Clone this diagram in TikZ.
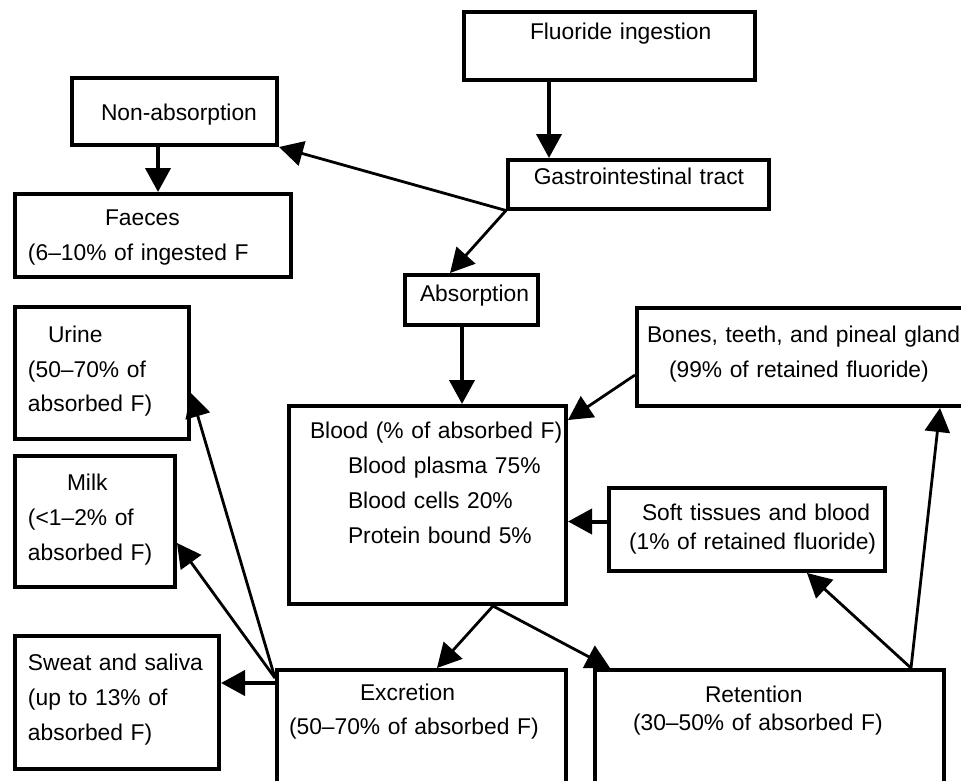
\documentclass[tikz,border=0pt]{standalone}
\usepackage{fontspec}
\setmainfont{Liberation Sans}
\usetikzlibrary{arrows.meta}

\newcommand{\flowfont}{\fontsize{22.8pt}{35pt}\selectfont}

\tikzset{
  box/.style={draw, line width=4pt, inner sep=0pt, anchor=north west, align=left},
  arr/.style={-{Triangle[length=24pt,width=25pt]}, line width=2.8pt},
  varr/.style={arr, line width=4pt},
}

\begin{document}
\begin{tikzpicture}[x=1pt,y=-1pt,font=\flowfont]
    \clip (0,0) rectangle (961,780);

    %% intake
    \node[box, text width=291pt, text height=27pt, text depth=41pt] (ingest) at (462,10)
      {\hspace*{66pt}Fluoride ingestion};
    \node[box, line width=3.5pt, text width=261pt, text height=25pt, text depth=24pt] (gastro) at (506,158)
      {\hspace*{26pt}Gastrointestinal tract};
    \node[box, text width=205pt, text height=42.5pt, text depth=24.5pt] (nonabs) at (70,76)
      {\hspace*{29pt}Non-absorption};
    \node[box, text width=276pt, text height=31.5pt, text depth=51.5pt] (faeces) at (13,192)
      {\hspace*{90pt}Faeces\\ \hspace*{13pt}(6--10\% of ingested F};
    \node[box, text width=133pt, text height=26.5pt, text depth=23.5pt] (absorb) at (403,273)
      {\hspace*{15pt}Absorption};

    %% blood
    \node[box, text width=277pt, text height=32pt, text depth=166pt] (blood) at (287,404)
      {\hspace*{21pt}\mbox{Blood (\% of absorbed F)}\\
       \hspace*{59pt}Blood plasma 75\%\\
       \hspace*{59pt}Blood cells 20\%\\
       \hspace*{59pt}Protein bound 5\%};

    %% excretion side
    \node[box, text width=174pt, text height=35pt, text depth=97pt] (urine) at (13,305)
      {\hspace*{33pt}Urine\\ \hspace*{13pt}(50--70\% of\\[-1pt] \hspace*{13pt}absorbed F)};
    \node[box, text width=160pt, text height=34.5pt, text depth=96.5pt] (milk) at (13,454)
      {\hspace*{52pt}Milk\\ \hspace*{13pt}(<1--2\% of\\ \hspace*{13pt}absorbed F)};
    \node[box, text width=204pt, text height=34.5pt, text depth=98.5pt] (sweat) at (13,634)
      {\hspace*{13pt}Sweat and saliva\\ \hspace*{13pt}(up to 13\% of\\ \hspace*{13pt}absorbed F)};
    \node[box, text width=289pt, text height=30pt, text depth=102pt] (excr) at (275,668)
      {\hspace*{83pt}Excretion\\[-1pt] \hspace*{12pt}(50--70\% of absorbed F)};

    %% retention side
    \node[box, text width=349pt, text height=32pt, text depth=100pt] (retent) at (593,668)
      {\hspace*{110pt}Retention\\[-6.5pt] \hspace*{38pt}(30--50\% of absorbed F)};
    \node[box, text width=340pt, text height=34pt, text depth=64pt] (bones) at (635,306)
      {\hspace*{10pt}\mbox{Bones, teeth, and pineal gland}\\ \hspace*{32pt}(99\% of retained fluoride)};
    \node[box, text width=276pt, text height=32pt, text depth=51pt] (soft) at (607,486)
      {\hspace*{33pt}Soft tissues and blood\\[-6pt] \hspace*{20pt}(1\% of retained fluoride)};

    %% connectors
    \draw[varr] ([xshift=87pt]ingest.south west) -- ([xshift=87pt]ingest.south west |- gastro.north);
    \draw[arr] (gastro.south west) -- (nonabs.south east);
    \draw[arr] (gastro.south west) -- ([xshift=47pt]absorb.north west);
    \draw[varr] ([xshift=88pt]nonabs.south west) -- ([xshift=88pt]nonabs.south west |- faeces.north);
    \draw[varr] ([xshift=59pt]absorb.south west) -- ([xshift=59pt]absorb.south west |- blood.north);
    \draw[arr] ([yshift=-69pt]bones.north west) -- ([yshift=-16pt]blood.north east);
    \draw[varr] ([yshift=8pt]soft.west) -- ([yshift=8pt]soft.west -| blood.east);
    \draw[arr] ([xshift=206pt]blood.south west) -- ([xshift=162pt]excr.north west);
    \draw[arr] ([xshift=206pt]blood.south west) -- ([xshift=17pt]retent.north west);
    \draw[arr] ([yshift=-10pt]excr.north west) -- ([yshift=-88pt]urine.north east);
    \draw[arr] ([yshift=-10pt]excr.north west) -- ([yshift=-89pt]milk.north east);
    \draw[varr] ([yshift=-15pt]excr.north west) -- ([yshift=-15pt]excr.north west -| sweat.east);
    \draw[arr] ([xshift=318pt]retent.north west) -- ([xshift=200pt]soft.south west);
    \draw[arr] ([xshift=318pt]retent.north west) -- ([xshift=305pt]bones.south west);
\end{tikzpicture}
\end{document}
